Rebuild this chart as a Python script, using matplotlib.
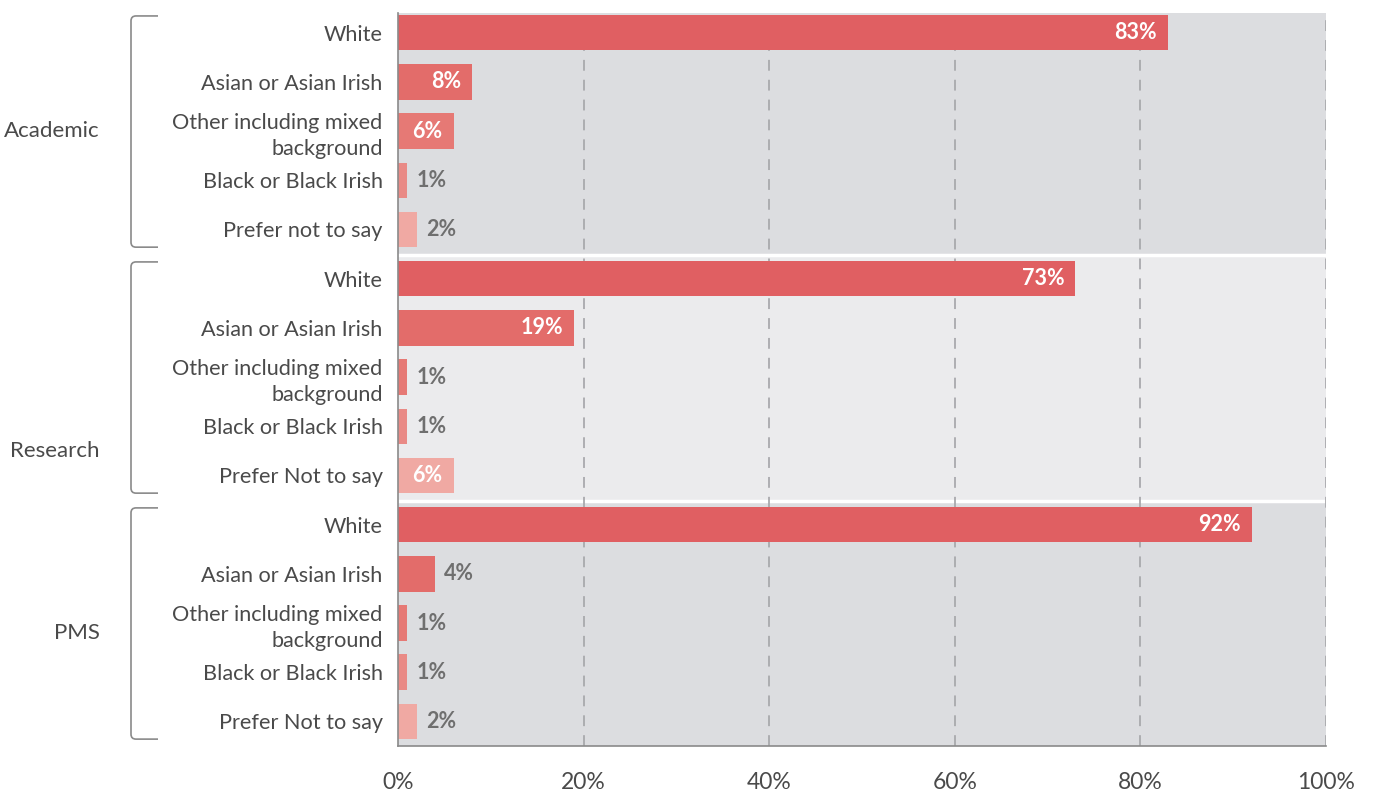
import matplotlib
matplotlib.use("Agg")
import matplotlib.pyplot as plt
from matplotlib.path import Path
from matplotlib.patches import PathPatch
import matplotlib.transforms as mtransforms

groups = ["Academic", "Research", "PMS"]
categories = [
    ["White", "Asian or Asian Irish", "Other including mixed\nbackground", "Black or Black Irish", "Prefer not to say"],
    ["White", "Asian or Asian Irish", "Other including mixed\nbackground", "Black or Black Irish", "Prefer Not to say"],
    ["White", "Asian or Asian Irish", "Other including mixed\nbackground", "Black or Black Irish", "Prefer Not to say"],
]
values = [
    [83, 8, 6, 1, 2],
    [73, 19, 1, 1, 6],
    [92, 4, 1, 1, 2],
]
xticks = [0, 20, 40, 60, 80, 100]
xticklabels = ["0%", "20%", "40%", "60%", "80%", "100%"]

cat_colors = ["#e05f62", "#e36c6a", "#e67975", "#e98a86", "#f0a9a3"]
band_colors = ["#dcdde0", "#ebebed", "#dcdde0"]

FONT = "Lato"
plt.rcParams["font.family"] = [FONT, "DejaVu Sans"]

W, H = 1373, 796
fig = plt.figure(figsize=(W / 100, H / 100), dpi=100)
ax = fig.add_axes([398 / W, 1 - 746 / H, (1326 - 398) / W, (746 - 13) / H])

n_per = 5
ypos, labels, vals, cols = [], [], [], []
for g in range(len(groups)):
    for i in range(n_per):
        ypos.append(g * n_per + i)
        labels.append(categories[g][i])
        vals.append(values[g][i])
        cols.append(cat_colors[i])

total = len(ypos)
top_lim = -0.4
ax.set_ylim(total - 0.5, top_lim)
ax.set_xlim(0, 100)

# bands
for g in range(len(groups)):
    lo = top_lim if g == 0 else g * n_per - 0.5
    ax.axhspan(lo, g * n_per + n_per - 0.5, color=band_colors[g], zorder=0, lw=0)
for g in range(1, len(groups)):
    ax.axhline(g * n_per - 0.48, color="white", lw=2.5, zorder=1)

# grid
for x in xticks[1:]:
    ax.axvline(x, color="#a9a9ad", lw=1.3, ls=(0, (6, 5)), zorder=1)

ax.barh(ypos, vals, height=0.72, color=cols, zorder=2)

for y, v in zip(ypos, vals):
    if v >= 5:
        ax.text(v - 1.2, y, f"{v}%", ha="right", va="center", color="white",
                fontsize=15.5, fontweight="bold", zorder=3)
    else:
        ax.text(v + 1.0, y, f"{v}%", ha="left", va="center", color="#6f6f6f",
                fontsize=15.5, fontweight="bold", zorder=3)

ax.set_yticks(ypos)
ax.set_yticklabels(labels, fontsize=15.6, color="#4a4a4a", linespacing=1.4)
ax.tick_params(axis="y", length=0, pad=11)
ax.set_xticks(xticks)
ax.set_xticklabels(xticklabels, fontsize=16.5, color="#4a4a4a")
ax.tick_params(axis="x", length=0, pad=19)

for s in ["top", "right"]:
    ax.spines[s].set_visible(False)
for s in ["left", "bottom"]:
    ax.spines[s].set_color("#8a8a8a")
    ax.spines[s].set_linewidth(1.2)
    ax.spines[s].set_zorder(4)

# brackets
trans = mtransforms.blended_transform_factory(fig.transFigure, ax.transData)
x0, x1 = 131 / W, 158 / W
rx, ry = 5 / W, 0.1
for g in range(len(groups)):
    top = g * n_per - 0.34
    bot = g * n_per + 4.36
    verts = [(x1, top), (x0 + rx, top), (x0, top), (x0, top + ry),
             (x0, bot - ry), (x0, bot), (x0 + rx, bot), (x1, bot)]
    codes = [Path.MOVETO, Path.LINETO, Path.CURVE3, Path.CURVE3,
             Path.LINETO, Path.CURVE3, Path.CURVE3, Path.LINETO]
    ax.add_patch(PathPatch(Path(verts, codes), transform=trans, fill=False,
                           edgecolor="#8a8a8a", lw=1.2, clip_on=False))

group_label_y = [2.0, 8.51, 12.2]
for g, name in enumerate(groups):
    ax.text(100 / W, group_label_y[g], name, transform=trans, ha="right", va="center",
            fontsize=16, color="#4a4a4a")

fig.savefig("out.png", dpi=100)
